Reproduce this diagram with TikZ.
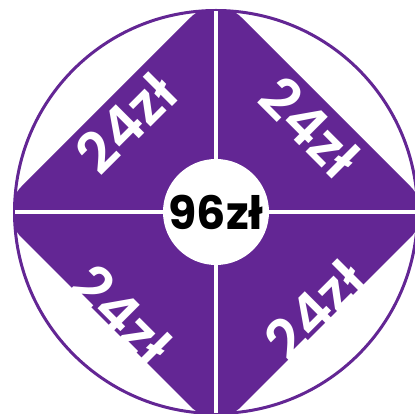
\documentclass[tikz,border=0pt]{standalone}
\usepackage{fontspec}
\setmainfont{Poppins}
\newfontfamily\pricefont{Poppins}[UprightFont=* SemiBold]
\usetikzlibrary{calc}
\definecolor{purp}{RGB}{99,38,148}
\begin{document}
\begin{tikzpicture}[x=1pt,y=1pt,
  price/.style={text=white,font=\pricefont\fontsize{56}{56}\selectfont,inner sep=0pt},
  divider/.style={draw=white,line width=4pt}]
\useasboundingbox (0,0) rectangle (415,414);
\coordinate (C) at (216,202);
\begin{scope}
  \clip (C) circle (201);
  \fill[purp,rounded corners=36pt] ($(C)+(220,0)$) -- ($(C)+(0,220)$) -- ($(C)+(-220,0)$) -- ($(C)+(0,-220)$) -- cycle;
\end{scope}
\draw[purp,line width=3pt] (C) circle (201.5);
\draw[divider] ($(C)+(0,201)$) -- ($(C)+(0,-201)$);
\draw[divider] ($(C)+(-201,0)$) -- ($(C)+(201,0)$);
\node[circle,fill=white,minimum size=106pt,inner sep=0pt] (mid) at (C) {};
\node[font=\fontsize{46}{46}\selectfont\bfseries,inner sep=0pt] (total) at (C) {96zł};
\node[price,rotate=45] (tl) at (126,291) {24zł};
\node[price,rotate=-45] (tr) at (310,287) {24zł};
\node[price,rotate=-45] (bl) at (122,99) {24zł};
\node[price,rotate=45] (br) at (315,104) {24zł};
\end{tikzpicture}
\end{document}
